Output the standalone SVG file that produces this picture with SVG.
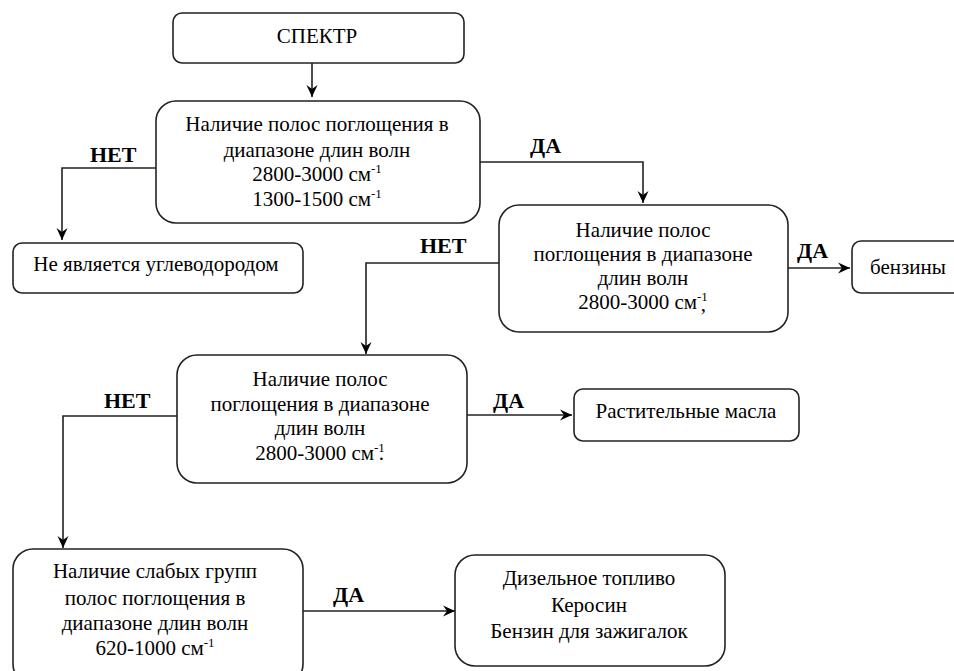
<svg xmlns="http://www.w3.org/2000/svg" width="954" height="671" viewBox="0 0 954 671">
<defs>
<marker id="arr" markerUnits="userSpaceOnUse" markerWidth="14" markerHeight="12" refX="12" refY="6" orient="auto">
<path d="M0,0.5 L12,6 L0,11.5 L4,6 z" fill="#000"/>
</marker>
<style>
text{font-family:"Liberation Serif","Times New Roman",serif}
.box{fill:#fff;stroke:#222;stroke-width:1.6}
.t{font-size:21px;fill:#000;text-anchor:middle}
.lbl{font-size:22px;font-weight:bold;fill:#000}
.sup{font-size:13px}
.c{fill:none;stroke:#222;stroke-width:1.6}
</style>
</defs>
<rect width="954" height="671" fill="#fff"/>
<g id="connectors">
<path class="c" d="M312,63 V97" marker-end="url(#arr)"/>
<path class="c" d="M156,168 H62 V240" marker-end="url(#arr)"/>
<path class="c" d="M480,162 H643 V203" marker-end="url(#arr)"/>
<path class="c" d="M788,268 H850" marker-end="url(#arr)"/>
<path class="c" d="M499,263 H366 V354" marker-end="url(#arr)"/>
<path class="c" d="M177,416 H63 V548" marker-end="url(#arr)"/>
<path class="c" d="M467,415 H572" marker-end="url(#arr)"/>
<path class="c" d="M303,611 H455" marker-end="url(#arr)"/>
<text class="lbl" x="90" y="162">НЕТ</text>
<text class="lbl" x="530" y="153">ДА</text>
<text class="lbl" x="420" y="253">НЕТ</text>
<text class="lbl" x="797" y="258">ДА</text>
<text class="lbl" x="104" y="408">НЕТ</text>
<text class="lbl" x="493" y="408">ДА</text>
<text class="lbl" x="333" y="602">ДА</text>
</g>
<g id="spectr">
<rect class="box" x="173" y="13" width="291" height="50" rx="9"/>
<text class="t" x="317" y="43">СПЕКТР</text>
</g>
<g id="q1">
<rect class="box" x="156" y="101" width="324" height="122" rx="20"/>
<text class="t" x="317" y="131">Наличие полос поглощения в</text>
<text class="t" x="317" y="157">диапазоне длин волн</text>
<text class="t" x="317" y="181">2800-3000 см<tspan class="sup" dy="-8">-1</tspan></text>
<text class="t" x="317" y="206">1300-1500 см<tspan class="sup" dy="-8">-1</tspan></text>
</g>
<g id="not-hc">
<rect class="box" x="13" y="243" width="290" height="50" rx="9"/>
<text class="t" x="156" y="271">Не является углеводородом</text>
</g>
<g id="q2">
<rect class="box" x="499" y="205" width="289" height="127" rx="20"/>
<text class="t" x="643" y="237">Наличие полос</text>
<text class="t" x="643" y="261">поглощения в диапазоне</text>
<text class="t" x="643" y="285">длин волн</text>
<text class="t" x="643" y="309">2800-3000 см<tspan class="sup" dy="-8">-1</tspan><tspan dx="-7" dy="10">,</tspan></text>
</g>
<g id="benzin">
<rect class="box" x="852" y="241" width="120" height="52" rx="9"/>
<text class="t" x="908" y="274">бензины</text>
</g>
<g id="q3">
<rect class="box" x="177" y="355" width="290" height="128" rx="20"/>
<text class="t" x="320" y="386">Наличие полос</text>
<text class="t" x="320" y="411">поглощения в диапазоне</text>
<text class="t" x="320" y="435">длин волн</text>
<text class="t" x="320" y="460">2800-3000 см<tspan class="sup" dy="-8">-1</tspan><tspan dx="-6" dy="8">.</tspan></text>
</g>
<g id="oils">
<rect class="box" x="574" y="389" width="225" height="52" rx="9"/>
<text class="t" x="686" y="418">Растительные масла</text>
</g>
<g id="q4">
<rect class="box" x="13" y="549" width="290" height="135" rx="20"/>
<text class="t" x="155" y="578">Наличие слабых групп</text>
<text class="t" x="155" y="605">полос поглощения в</text>
<text class="t" x="155" y="630">диапазоне длин волн</text>
<text class="t" x="155" y="655">620-1000 см<tspan class="sup" dy="-8">-1</tspan></text>
</g>
<g id="diesel">
<rect class="box" x="455" y="555" width="270" height="111" rx="20"/>
<text class="t" x="589" y="585">Дизельное топливо</text>
<text class="t" x="589" y="612">Керосин</text>
<text class="t" x="589" y="638">Бензин для зажигалок</text>
</g>
</svg>
